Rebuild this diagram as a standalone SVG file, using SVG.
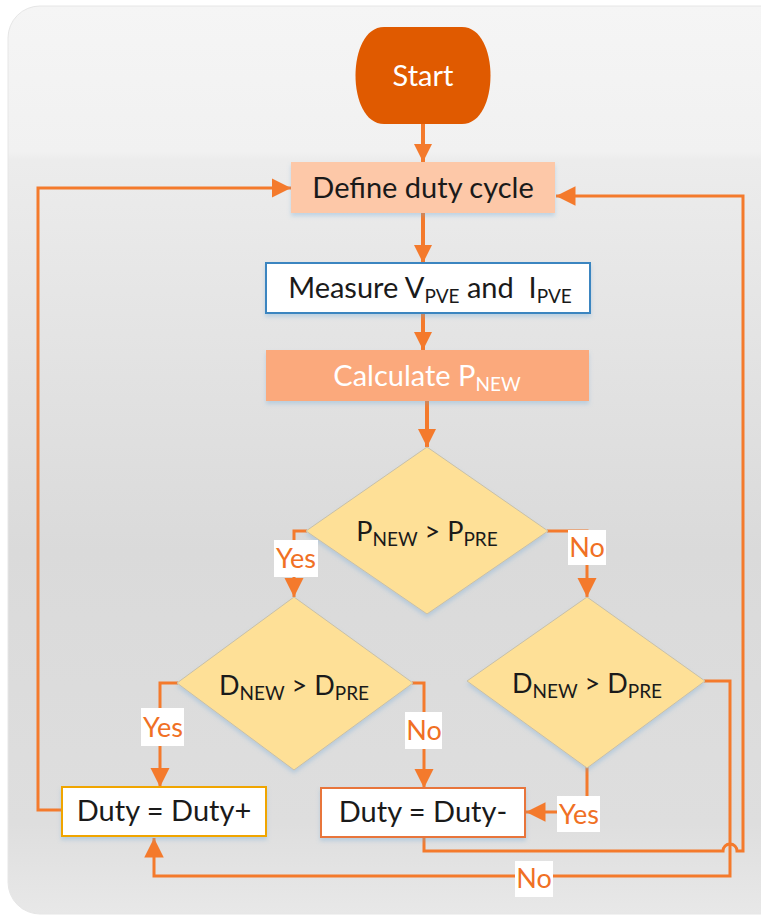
<svg xmlns="http://www.w3.org/2000/svg" width="761" height="920" viewBox="0 0 761 920">
<defs>
<linearGradient id="bg" x1="0" y1="0" x2="0" y2="1">
<stop offset="0" stop-color="#f5f5f5"/>
<stop offset="0.16" stop-color="#f1f1f1"/>
<stop offset="0.17" stop-color="#ececec"/>
<stop offset="0.6" stop-color="#dadada"/>
<stop offset="0.9" stop-color="#dedede"/>
<stop offset="1" stop-color="#e8e8e8"/>
</linearGradient>
<marker id="ah" viewBox="0 0 10 10" refX="10" refY="5" markerWidth="4.5" markerHeight="4.5" orient="auto" markerUnits="strokeWidth">
<path d="M0,0 L10,5 L0,10 z" fill="#f47a2c"/>
</marker>
<marker id="ah2" viewBox="0 0 10 10" refX="10" refY="5" markerWidth="6.5" markerHeight="6.5" orient="auto" markerUnits="strokeWidth">
<path d="M0,0 L10,5 L0,10 z" fill="#f47a2c"/>
</marker>
<filter id="sh" x="-10%" y="-10%" width="120%" height="130%">
<feDropShadow dx="0" dy="3" stdDeviation="2" flood-color="#6fa8d8" flood-opacity="0.35"/>
</filter>
</defs>
<style>
text{font-family:Lato,"Open Sans","Liberation Sans",sans-serif;}
.t{font-size:29px;fill:#1a1a1a;text-anchor:middle;}
.d{font-size:27px;}
.w{fill:#ffffff;}
.s{font-size:19px;}
.c{fill:none;stroke:#f47a2c;stroke-width:3;}
.ct{fill:none;stroke:#f47a2c;stroke-width:4;}
.lb{fill:#ffffff;}
.lt{font-size:27px;fill:#f07024;text-anchor:middle;}
.dia{fill:#fee097;stroke:#c8c0a8;stroke-width:1;filter:url(#sh);}
</style>
<rect x="0" y="0" width="761" height="920" fill="#ffffff"/>
<rect x="8" y="6" width="790" height="908" rx="32" ry="32" fill="url(#bg)" stroke="#e6e6e6" stroke-width="1"/>

<g id="connectors">
<line class="ct" x1="423" y1="124" x2="423" y2="162" marker-end="url(#ah)"/>
<line class="ct" x1="423" y1="213" x2="423" y2="263" marker-end="url(#ah)"/>
<line class="ct" x1="423" y1="313" x2="423" y2="350" marker-end="url(#ah)"/>
<line class="ct" x1="427" y1="401" x2="427" y2="447" marker-end="url(#ah)"/>
<polyline class="c" points="62,810 38,810 38,188 291,188" marker-end="url(#ah2)"/>
<polyline class="c" points="307,531 294,531 294,597" marker-end="url(#ah2)"/>
<polyline class="c" points="547,531 587,531 587,597" marker-end="url(#ah2)"/>
<polyline class="c" points="178,683 160,683 160,787" marker-end="url(#ah2)"/>
<polyline class="c" points="412,683 424,683 424,788" marker-end="url(#ah2)"/>
<polyline class="c" points="587,766 587,812 526,812" marker-end="url(#ah2)"/>
<polyline class="c" points="704,681 730,681 730,876 154,876 154,838" marker-end="url(#ah2)"/>
<path class="c" d="M424,838 L424,851 L723,851 A7,7 0 0 1 737,851 L743,851 L743,196 L556,196" marker-end="url(#ah2)"/>
</g>

<g id="start">
<path d="M384,27 L462,27 C500,27 500,124 462,124 L384,124 C346,124 346,27 384,27 z" fill="#e05a00"/>
<text class="t w" x="423" y="86">Start</text>
</g>

<g id="define">
<rect x="291" y="162" width="264" height="51" fill="#fdc8a8" filter="url(#sh)"/>
<text class="t" x="423" y="198">Define duty cycle</text>
</g>

<g id="measure">
<rect x="266" y="263" width="324" height="50" fill="#ffffff" stroke="#3a85c0" stroke-width="2" filter="url(#sh)"/>
<text class="t" x="430" y="298">Measure V<tspan class="s" dy="5">PVE</tspan><tspan dy="-5"> and &#160;I</tspan><tspan class="s" dy="5">PVE</tspan></text>
</g>

<g id="calculate">
<rect x="266" y="350" width="323" height="51" fill="#fba97c" filter="url(#sh)"/>
<text class="t w" x="427" y="386">Calculate P<tspan class="s" dy="5">NEW</tspan></text>
</g>

<g id="d1">
<polygon class="dia" points="427,447 548,531 427,614 306,531"/>
<text class="t d" x="427" y="541">P<tspan class="s" dy="5">NEW</tspan><tspan dy="-5"> &gt; P</tspan><tspan class="s" dy="5">PRE</tspan></text>
</g>

<g id="d2">
<polygon class="dia" points="294,597 413,683 294,770 177,683"/>
<text class="t d" x="294" y="695">D<tspan class="s" dy="5">NEW</tspan><tspan dy="-5"> &gt; D</tspan><tspan class="s" dy="5">PRE</tspan></text>
</g>

<g id="d3">
<polygon class="dia" points="587,597 705,681 587,768 467,681"/>
<text class="t d" x="587" y="693">D<tspan class="s" dy="5">NEW</tspan><tspan dy="-5"> &gt; D</tspan><tspan class="s" dy="5">PRE</tspan></text>
</g>

<g id="dutyplus">
<rect x="62" y="787" width="204" height="49" fill="#ffffff" stroke="#f0a500" stroke-width="2" filter="url(#sh)"/>
<text class="t" x="164" y="821">Duty = Duty+</text>
</g>

<g id="dutyminus">
<rect x="321" y="788" width="204" height="49" fill="#ffffff" stroke="#e8743a" stroke-width="2" filter="url(#sh)"/>
<text class="t" x="423" y="822">Duty = Duty-</text>
</g>

<g id="labels">
<rect class="lb" x="274" y="540" width="44" height="37"/>
<text class="lt" x="296" y="568">Yes</text>
<rect class="lb" x="568" y="530" width="38" height="35"/>
<text class="lt" x="587" y="557">No</text>
<rect class="lb" x="141" y="708" width="43" height="38"/>
<text class="lt" x="163" y="737">Yes</text>
<rect class="lb" x="405" y="712" width="37" height="37"/>
<text class="lt" x="424" y="740">No</text>
<rect class="lb" x="557" y="796" width="43" height="36"/>
<text class="lt" x="579" y="824">Yes</text>
<rect class="lb" x="515" y="861" width="38" height="36"/>
<text class="lt" x="534" y="888">No</text>
</g>
</svg>
